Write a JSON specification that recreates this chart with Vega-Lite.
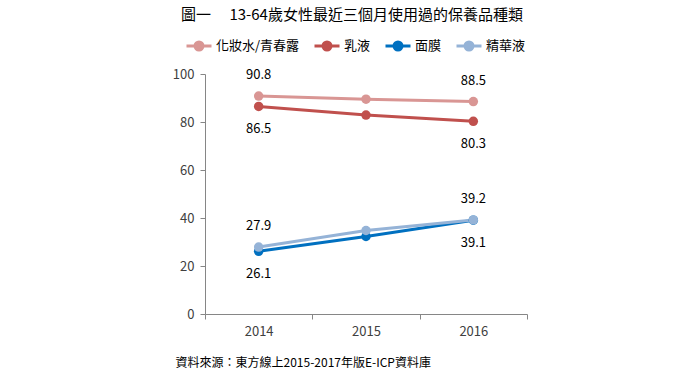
{
  "$schema": "https://vega.github.io/schema/vega-lite/v6.json",
  "width": 322,
  "height": 240,
  "autosize": {"type": "none"},
  "padding": {"left": 205, "top": 74, "right": 173, "bottom": 62},
  "background": "white",
  "config": {
    "view": {"stroke": null},
    "font": "Noto Sans CJK TC",
    "axis": {"labelFont": "Noto Sans CJK TC", "titleFont": "Noto Sans CJK TC"},
    "legend": {"labelFont": "Noto Sans CJK TC"}
  },
  "title": {
    "text": "圖一　 13-64歲女性最近三個月使用過的保養品種類",
    "fontSize": 15,
    "fontWeight": "normal",
    "color": "#000000",
    "anchor": "middle",
    "frame": "group",
    "offset": 9,
    "dx": -14
  },
  "data": {
    "values": [
      {"year": "2014", "series": "化妝水/青春露", "value": 90.8},
      {"year": "2015", "series": "化妝水/青春露", "value": 89.5},
      {"year": "2016", "series": "化妝水/青春露", "value": 88.5},
      {"year": "2014", "series": "乳液", "value": 86.5},
      {"year": "2015", "series": "乳液", "value": 82.9},
      {"year": "2016", "series": "乳液", "value": 80.3},
      {"year": "2014", "series": "面膜", "value": 26.1},
      {"year": "2015", "series": "面膜", "value": 32.3},
      {"year": "2016", "series": "面膜", "value": 39.1},
      {"year": "2014", "series": "精華液", "value": 27.9},
      {"year": "2015", "series": "精華液", "value": 34.8},
      {"year": "2016", "series": "精華液", "value": 39.2}
    ]
  },
  "encoding": {
    "x": {
      "field": "year",
      "type": "ordinal",
      "scale": {"type": "band", "paddingInner": 0, "paddingOuter": 0},
      "axis": {
        "title": "資料來源：東方線上2015-2017年版E-ICP資料庫",
        "titleAnchor": "start",
        "titleAlign": "left",
        "titleX": -30,
        "titleY": 48,
        "titleBaseline": "middle",
        "titleFontSize": 12,
        "titleFontWeight": "normal",
        "titleColor": "#000000",
        "labelAngle": 0,
        "labelFontSize": 13,
        "labelColor": "#404040",
        "labelPadding": 6,
        "tickBand": "extent",
        "tickSize": 5,
        "tickColor": "#868686",
        "domainColor": "#868686",
        "grid": false
      }
    },
    "y": {
      "field": "value",
      "type": "quantitative",
      "scale": {"domain": [0, 100], "nice": false},
      "axis": {
        "title": null,
        "values": [0, 20, 40, 60, 80, 100],
        "labelFontSize": 13,
        "labelColor": "#404040",
        "labelPadding": 6,
        "tickSize": 5,
        "tickColor": "#868686",
        "domainColor": "#868686",
        "grid": false
      }
    },
    "color": {
      "field": "series",
      "type": "nominal",
      "sort": ["化妝水/青春露", "乳液", "面膜", "精華液"],
      "scale": {
        "domain": ["化妝水/青春露", "乳液", "面膜", "精華液"],
        "range": ["#D99694", "#C0504D", "#0070C0", "#95B3D7"]
      },
      "legend": {
        "title": null,
        "orient": "none",
        "direction": "horizontal",
        "legendX": -20,
        "legendY": -42,
        "symbolType": "M-1,0H1M0.32,0A0.32,0.32,0,1,1,-0.32,0A0.32,0.32,0,1,1,0.32,0",
        "symbolSize": 625,
        "symbolStrokeWidth": 3,
        "labelFontSize": 13,
        "labelColor": "#000000",
        "labelOffset": 3,
        "columnPadding": 8,
        "encode": {
          "symbols": {"update": {"fill": {"scale": "color", "field": "value"}, "stroke": {"scale": "color", "field": "value"}}}
        }
      }
    }
  },
  "layer": [
    {"mark": {"type": "line", "strokeWidth": 3}},
    {"mark": {"type": "point", "filled": true, "size": 90, "opacity": 1}},
    {
      "transform": [
        {"filter": "datum.year != '2015'"},
        {"filter": "datum.series == '化妝水/青春露' || datum.series == '精華液'"}
      ],
      "mark": {"type": "text", "dy": -21, "fontSize": 13, "color": "#000000"},
      "encoding": {"text": {"field": "value", "type": "quantitative", "format": ".1f"}, "color": {"value": "#000000"}}
    },
    {
      "transform": [
        {"filter": "datum.year != '2015'"},
        {"filter": "datum.series == '乳液' || datum.series == '面膜'"}
      ],
      "mark": {"type": "text", "dy": 23, "fontSize": 13, "color": "#000000"},
      "encoding": {"text": {"field": "value", "type": "quantitative", "format": ".1f"}, "color": {"value": "#000000"}}
    }
  ]
}
